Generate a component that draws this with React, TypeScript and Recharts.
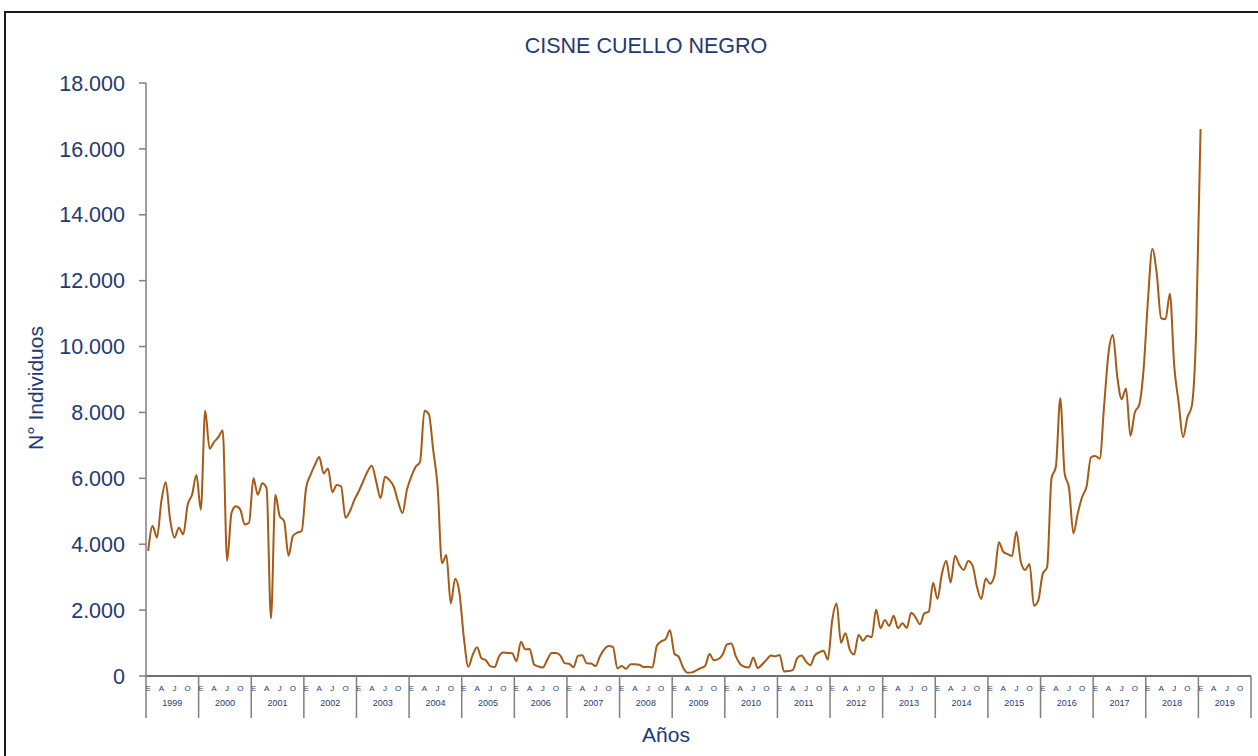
import React from "react";
import { LineChart, Line, XAxis, YAxis } from "recharts";

const NAVY = "#1F3A73";
const LINE = "#A65A17";
const FONT = "'Liberation Sans', Arial, sans-serif";

const YEARS = [1999, 2000, 2001, 2002, 2003, 2004, 2005, 2006, 2007, 2008, 2009, 2010, 2011, 2012, 2013, 2014, 2015, 2016, 2017, 2018, 2019];
const MONTH_TICKS = ["E", "", "", "A", "", "", "J", "", "", "O", "", ""];
const Y_TICKS = [0, 2000, 4000, 6000, 8000, 10000, 12000, 14000, 16000, 18000];

// conteos mensuales
const V1999 = [3800, 4550, 4200, 5300, 5880, 4750, 4200, 4500, 4300, 5200, 5500, 6100];
const V2000 = [5050, 8050, 6900, 7100, 7250, 7450, 3500, 4950, 5150, 5050, 4600, 4650];
const V2001 = [6000, 5500, 5850, 5700, 1750, 5500, 4850, 4700, 3650, 4250, 4350, 4400];
const V2002 = [5700, 6100, 6400, 6650, 6150, 6300, 5580, 5800, 5750, 4800, 5000, 5340];
const V2003 = [5600, 5900, 6200, 6380, 5900, 5400, 6050, 5950, 5750, 5290, 4950, 5650];
const V2004 = [6050, 6350, 6500, 8050, 7950, 6860, 5750, 3420, 3670, 2200, 2950, 2500];
const V2005 = [1150, 280, 640, 870, 540, 480, 300, 270, 590, 710, 700, 690];
const V2006 = [450, 1040, 810, 820, 350, 290, 260, 490, 700, 700, 620, 390];
const V2007 = [370, 265, 610, 630, 385, 380, 300, 590, 810, 910, 880, 230];
const V2008 = [300, 220, 360, 360, 340, 270, 280, 260, 920, 1050, 1120, 1390];
const V2009 = [680, 580, 250, 100, 110, 170, 240, 300, 670, 480, 510, 650];
const V2010 = [960, 990, 600, 360, 280, 260, 560, 240, 350, 490, 620, 600];
const V2011 = [640, 140, 150, 180, 540, 620, 440, 330, 620, 720, 770, 500];
const V2012 = [1700, 2200, 1010, 1300, 800, 650, 1250, 1070, 1220, 1180, 2020, 1450];
const V2013 = [1700, 1520, 1830, 1450, 1600, 1460, 1920, 1780, 1570, 1900, 1950, 2830];
const V2014 = [2340, 3100, 3500, 2840, 3650, 3370, 3220, 3490, 3350, 2710, 2340, 2960];
const V2015 = [2800, 3050, 4060, 3770, 3700, 3640, 4380, 3470, 3220, 3400, 2130, 2300];
const V2016 = [3100, 3300, 6000, 6350, 8430, 6150, 5700, 4330, 4940, 5440, 5750, 6640];
const V2017 = [6680, 6600, 8200, 9800, 10350, 9090, 8400, 8730, 7290, 8000, 8230, 9300];
const V2018 = [11410, 12960, 12220, 10860, 10830, 11600, 9400, 8300, 7250, 7850, 8200, 10500];
const V2019 = [16600];

const VALUES = [
  ...V1999, ...V2000, ...V2001, ...V2002, ...V2003, ...V2004, ...V2005,
  ...V2006, ...V2007, ...V2008, ...V2009, ...V2010, ...V2011, ...V2012,
  ...V2013, ...V2014, ...V2015, ...V2016, ...V2017, ...V2018, ...V2019,
];

const data = YEARS.flatMap((yr, yi) =>
  MONTH_TICKS.map((_, mi) => {
    const i = yi * 12 + mi;
    return { i, v: i < VALUES.length ? VALUES[i] : null };
  })
);

const N = data.length;
const PLOT_LEFT = 146;
const PLOT_RIGHT = 1251;
const BAND = (PLOT_RIGHT - PLOT_LEFT) / N;

const fmt = (v: number) => (v === 0 ? "0" : v.toLocaleString("de-DE"));

function MonthTick({ x, y, payload }: any) {
  const m = Number(payload.value);
  const mi = m % 12;
  const letter = MONTH_TICKS[mi];
  const left = x - BAND / 2;
  return (
    <g>
      {letter && (
        <text x={x} y={y + 15} textAnchor="middle" fontSize={8} fill={NAVY} fontFamily={FONT}>
          {letter}
        </text>
      )}
      {mi === 0 && (
        <>
          <line x1={left} y1={y} x2={left} y2={y + 42} stroke="#7f7f7f" strokeWidth={1.5} />
          <text x={left + BAND * 6} y={y + 30} textAnchor="middle" fontSize={9} fill={NAVY} fontFamily={FONT}>
            {YEARS[Math.floor(m / 12)]}
          </text>
        </>
      )}
      {m === N - 1 && (
        <line x1={x + BAND / 2} y1={y} x2={x + BAND / 2} y2={y + 42} stroke="#7f7f7f" strokeWidth={1.5} />
      )}
    </g>
  );
}

export default function App() {
  return (
    <div style={{ position: "fixed", left: 0, top: 0, width: 1258, height: 756, overflow: "hidden", background: "#fff", fontFamily: FONT }}>
      <div style={{ position: "absolute", left: 4, top: 11, width: 1300, height: 800, border: "2px solid #1a1a1a" }} />
      <div style={{ position: "absolute", left: 646, top: 46, transform: "translate(-50%, -50%)", fontSize: 21.5, color: NAVY, whiteSpace: "nowrap" }}>
        CISNE CUELLO NEGRO
      </div>
      <div style={{ position: "absolute", left: 36, top: 388, transform: "translate(-50%, -50%) rotate(-90deg)", fontSize: 21, color: NAVY, whiteSpace: "nowrap" }}>
        N° Individuos
      </div>
      <div style={{ position: "absolute", left: 666, top: 735, transform: "translate(-50%, -50%)", fontSize: 21, color: NAVY, whiteSpace: "nowrap" }}>
        Años
      </div>
      <div style={{ position: "absolute", left: 0, top: 0 }}>
        <LineChart width={1258} height={756} data={data} margin={{ top: 83, right: 1258 - PLOT_RIGHT, left: PLOT_LEFT - 80, bottom: 30 }}>
          <XAxis
            dataKey="i"
            type="category"
            scale="band"
            interval={0}
            height={50}
            tickSize={0}
            tickMargin={0}
            tickLine={false}
            axisLine={{ stroke: "#404040", strokeWidth: 1.5 }}
            tick={<MonthTick />}
          />
          <YAxis
            width={80}
            domain={[0, 18000]}
            ticks={Y_TICKS}
            tickFormatter={fmt}
            tickSize={7}
            tickMargin={14}
            axisLine={{ stroke: "#7f7f7f", strokeWidth: 1.5 }}
            tickLine={{ stroke: "#7f7f7f", strokeWidth: 1.5 }}
            tick={{ fill: NAVY, fontSize: 21.5, fontFamily: FONT }}
          />
          <Line type="monotone" dataKey="v" stroke={LINE} strokeWidth={2} dot={false} isAnimationActive={false} connectNulls={false} />
        </LineChart>
      </div>
    </div>
  );
}
